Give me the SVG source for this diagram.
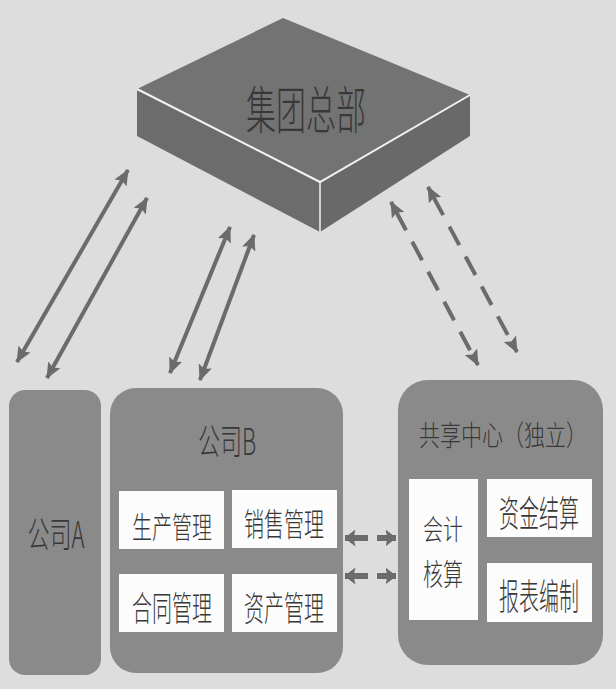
<svg xmlns="http://www.w3.org/2000/svg" width="616" height="689" viewBox="0 0 616 689">
<style>
.t{font-family:"Noto Sans CJK SC","Noto Sans",sans-serif;font-weight:300;fill:#383838;text-anchor:middle;dominant-baseline:central}
.panel{fill:#8a8a8a}
.wb{fill:#fcfcfc}
.ar{stroke:#6b6b6b;stroke-width:4;fill:none}
.da{stroke:#6b6b6b;stroke-width:4;fill:none}
.ha{stroke:#6b6b6b;stroke-width:6;fill:none}
</style>
<defs>
<marker id="ah" viewBox="0 0 16 14" refX="15" refY="7" markerWidth="16" markerHeight="14" markerUnits="userSpaceOnUse" orient="auto-start-reverse">
<path d="M0,0 L16,7 L0,14 L3,7 Z" fill="#6b6b6b"/>
</marker>
<marker id="hh" viewBox="0 0 11 17" refX="10.5" refY="8.5" markerWidth="11" markerHeight="17" markerUnits="userSpaceOnUse" orient="auto-start-reverse">
<path d="M0,0 L11,8.5 L0,17 L2,8.5 Z" fill="#6b6b6b"/>
</marker>
</defs>
<rect width="616" height="689" fill="#dddddd"/>

<g id="hq">
<polygon points="137,89 320,182 320,232 137,136" fill="#6c6c6c"/>
<polygon points="320,182 470,95 470,136 320,232" fill="#696969"/>
<polygon points="283,18 470,95 320,182 137,89" fill="#737373"/>
<polyline points="137,89 320,182 470,95" fill="none" stroke="#f2f2f2" stroke-width="2"/>
<line x1="320" y1="182" x2="320" y2="232" stroke="#f2f2f2" stroke-width="1.5"/>
<text class="t" transform="translate(306,106) scale(1,1.7)" font-size="30">集团总部</text>
</g>

<g id="companyA">
<rect class="panel" x="9" y="390" width="92" height="285" rx="16"/>
<text class="t" transform="translate(56,532) scale(1,1.65)" font-size="22">公司A</text>
</g>

<g id="companyB">
<rect class="panel" x="110" y="388" width="233" height="285" rx="26"/>
<text class="t" transform="translate(227,439) scale(1,1.65)" font-size="22">公司B</text>
<rect class="wb" x="119" y="491" width="105" height="58"/>
<rect class="wb" x="232" y="490" width="105" height="58"/>
<rect class="wb" x="119" y="574" width="105" height="58"/>
<rect class="wb" x="232" y="574" width="105" height="58"/>
<text class="t" transform="translate(172,524) scale(1,1.5)" font-size="20">生产管理</text>
<text class="t" transform="translate(284,522) scale(1,1.6)" font-size="20">销售管理</text>
<text class="t" transform="translate(172,606) scale(1,1.7)" font-size="20">合同管理</text>
<text class="t" transform="translate(284,606) scale(1,1.7)" font-size="20">资产管理</text>
</g>

<g id="shared">
<rect class="panel" x="398" y="380" width="205" height="285" rx="30"/>
<text class="t" transform="translate(503,433) scale(1,1.35)" font-size="21">共享中心（独立）</text>
<rect class="wb" x="409" y="479" width="69" height="141"/>
<rect class="wb" x="487" y="479" width="105" height="58"/>
<rect class="wb" x="487" y="563" width="105" height="59"/>
<text class="t" transform="translate(443,528) scale(1,1.4)" font-size="20">会计</text>
<text class="t" transform="translate(443,571) scale(1,1.5)" font-size="20">核算</text>
<text class="t" transform="translate(539,511) scale(1,1.8)" font-size="20">资金结算</text>
<text class="t" transform="translate(539,594) scale(1,1.8)" font-size="20">报表编制</text>
</g>

<g id="connectors">
<line class="ar" x1="17" y1="362" x2="128" y2="170" marker-start="url(#ah)" marker-end="url(#ah)"/>
<line class="ar" x1="47" y1="378" x2="147" y2="198" marker-start="url(#ah)" marker-end="url(#ah)"/>
<line class="ar" x1="170" y1="373" x2="230" y2="227" marker-start="url(#ah)" marker-end="url(#ah)"/>
<line class="ar" x1="200" y1="380" x2="254" y2="235" marker-start="url(#ah)" marker-end="url(#ah)"/>
<line class="da" x1="391" y1="202" x2="478" y2="365" stroke-dasharray="32 13 21 13 21 13 21 13 21 13 40" marker-start="url(#ah)" marker-end="url(#ah)"/>
<line class="da" x1="428" y1="187" x2="517" y2="352" stroke-dasharray="32 13 21 13 21 13 21 13 21 13 40" marker-start="url(#ah)" marker-end="url(#ah)"/>
<line class="ha" x1="345" y1="538" x2="396" y2="538" stroke-dasharray="23 9 30" marker-start="url(#hh)" marker-end="url(#hh)"/>
<line class="ha" x1="345" y1="576" x2="396" y2="576" stroke-dasharray="23 9 30" marker-start="url(#hh)" marker-end="url(#hh)"/>
</g>
</svg>
